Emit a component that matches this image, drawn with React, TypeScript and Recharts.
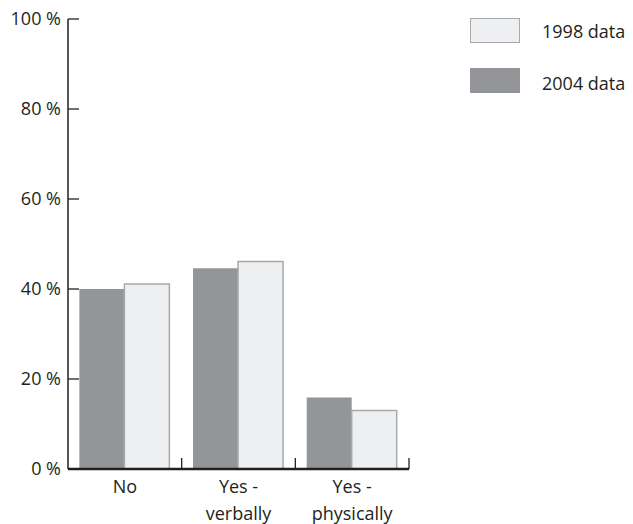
import { BarChart, Bar, XAxis, YAxis } from "recharts";

const categories = ["No", "Yes -\nverbally", "Yes -\nphysically"];
const data2004 = [40, 44.6, 15.9];
const data1998 = [41.1, 46.1, 13];
const yTicks = [0, 20, 40, 60, 80, 100];

const rows = categories.map((c, i) => ({ cat: c, y2004: data2004[i], y1998: data1998[i] }));

const FONT = "'Open Sans', sans-serif";
const TEXT = "#231f20";
const DARK = "#939598";
const LIGHT = "#eeeff1";
const LIGHT_EDGE = "#a7a9ac";

// plot geometry (chart coords)
const PLOT_W = 341;
const HALF_BAND = PLOT_W / categories.length / 2;

const YTick = ({ x, y, payload }: any) => (
  <g>
    <line x1={x} x2={x + 11} y1={y} y2={y} stroke={TEXT} strokeWidth={1.3} />
    <text x={x - 7} y={y} dy={6} textAnchor="end" fontSize={18} fontFamily={FONT} fill={TEXT}>
      {`${payload.value} %`}
    </text>
  </g>
);

const XTick = ({ x, y, payload }: any) => {
  const lines = String(payload.value).split("\n");
  return (
    <g>
      <line x1={x + HALF_BAND} x2={x + HALF_BAND} y1={y} y2={y - 11} stroke={TEXT} strokeWidth={1.3} />
      {lines.map((l, i) => (
        <text key={i} x={x} y={y + 24 + i * 27} textAnchor="middle" fontSize={18} fontFamily={FONT} fill={TEXT}>
          {l}
        </text>
      ))}
    </g>
  );
};

const legendItems = [
  { label: "1998 data", fill: LIGHT, edge: LIGHT_EDGE },
  { label: "2004 data", fill: DARK, edge: DARK },
];

export default function App() {
  return (
    <div style={{ position: "relative", width: 617, height: 516 }}>
      <BarChart
        width={617}
        height={516}
        data={rows}
        margin={{ top: 11, right: 216, bottom: 8, left: 0 }}
        barCategoryGap="10%"
        barGap={0}
      >
        <XAxis
          dataKey="cat"
          height={47}
          tickSize={0}
          tickMargin={0}
          tickLine={false}
          axisLine={{ stroke: TEXT, strokeWidth: 2.5 }}
          tick={<XTick />}
          interval={0}
        />
        <YAxis
          width={60}
          domain={[0, 100]}
          ticks={yTicks}
          tickSize={0}
          tickMargin={0}
          tickLine={false}
          axisLine={{ stroke: TEXT, strokeWidth: 1.5 }}
          tick={<YTick />}
        />
        <Bar dataKey="y2004" fill={DARK} isAnimationActive={false} />
        <Bar dataKey="y1998" fill={LIGHT} stroke={LIGHT_EDGE} strokeWidth={1.5} isAnimationActive={false} />
      </BarChart>
      <div style={{ position: "absolute", left: 462, top: 10, width: 170 }}>
        {legendItems.map((it, i) => (
          <div key={it.label} style={{ position: "absolute", left: 0, top: i * 47, display: "flex", alignItems: "center" }}>
            <div style={{ width: 48, height: 23, background: it.fill, border: `1.5px solid ${it.edge}` }} />
            <span style={{ marginLeft: 22, fontSize: 18, fontFamily: FONT, color: TEXT, marginTop: i === 1 ? 6 : 0, whiteSpace: "nowrap" }}>
              {it.label}
            </span>
          </div>
        ))}
      </div>
    </div>
  );
}
